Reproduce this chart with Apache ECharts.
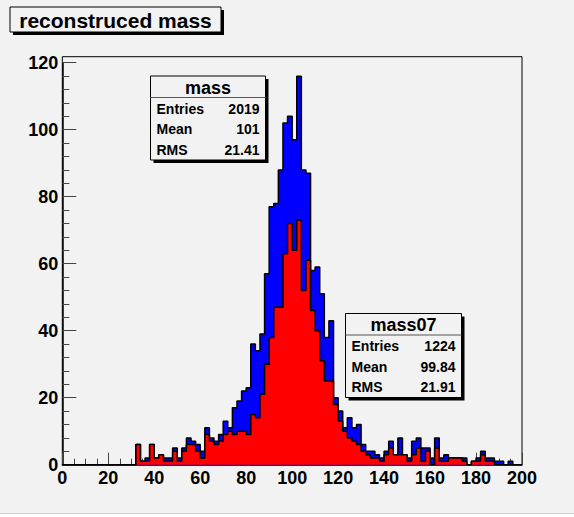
<!DOCTYPE html>
<html>
<head>
<meta charset="utf-8">
<title>reconstruced mass</title>
<script src="https://cdn.jsdelivr.net/npm/echarts@6/dist/echarts.min.js"></script>
<style>
  html, body { margin: 0; padding: 0; background: #f2f2f2; }
  #chart { width: 574px; height: 517px; }
</style>
</head>
<body>
<div id="chart"></div>
<script>
// histogram: 100 bins of width 2 between 0 and 200
var binStart = 0;
var binWidth = 2;
var xTicks = [0, 20, 40, 60, 80, 100, 120, 140, 160, 180, 200];
var yTicks = [0, 20, 40, 60, 80, 100, 120];
var yMax = 121.8;

// "mass" (blue)
var massCounts = [
  0, 0, 0, 0, 0, 0, 0, 0, 0, 0,
  0, 0, 0, 0, 0, 0, 6, 1, 2, 6,
  2, 3, 2, 2, 5, 2, 5, 8, 7, 6,
  4, 11, 8, 7, 9, 13, 11, 17, 19, 22,
  23, 36, 34, 39, 57, 77, 78, 88, 102, 104,
  97, 116, 88, 87, 58, 59, 51, 38, 43, 20,
  16, 11, 14, 11, 12, 6, 4, 4, 3, 2,
  4, 7, 3, 8, 3, 2, 7, 8, 5, 5,
  2, 8, 2, 3, 2, 2, 2, 2, 0, 1,
  2, 4, 2, 2, 1, 1, 0, 1, 0, 0
];

// "mass07" (red)
var mass07Counts = [
  0, 0, 0, 0, 0, 0, 0, 0, 0, 0,
  0, 0, 0, 0, 0, 0, 6, 1, 1, 6,
  2, 3, 1, 1, 4, 1, 4, 6, 6, 4,
  2, 9, 7, 6, 7, 9, 10, 9, 10, 10,
  9, 15, 14, 21, 30, 38, 47, 47, 63, 72,
  64, 73, 52, 61, 46, 40, 31, 25, 25, 18,
  13, 10, 8, 7, 6, 4, 3, 2, 2, 1,
  3, 5, 3, 3, 3, 1, 3, 5, 1, 4,
  0, 5, 1, 1, 2, 2, 2, 1, 0, 1,
  1, 3, 1, 1, 0, 0, 0, 0, 0, 0
];

var statNames = ['Entries', 'Mean', 'RMS'];
var massStats = ['2019', '101', '21.41'];
var mass07Stats = ['1224', '99.84', '21.91'];

// turn bin contents into step points (left edge of every bin + last right edge)
function stepPoints(counts) {
    var pts = [];
    for (var i = 0; i < counts.length; i++) {
        pts.push([binStart + i * binWidth, counts[i]]);
    }
    pts.push([binStart + counts.length * binWidth, counts[counts.length - 1]]);
    return pts;
}

var BG = '#f2f2f2';
var labelFont = 'Liberation Sans';

function statBox(x, y, w, h, name, values) {
    var children = [
        {type: 'rect', shape: {x: x + 3, y: y + 3, width: w, height: h}, style: {fill: '#000'}},
        {type: 'rect', shape: {x: x, y: y, width: w, height: h}, style: {fill: BG, stroke: '#000', lineWidth: 1}},
        {type: 'line', shape: {x1: x, y1: y + 21.5, x2: x + w, y2: y + 21.5}, style: {stroke: '#555', lineWidth: 1}},
        {type: 'text', style: {text: name, x: x + w / 2, y: y + 11.5, textAlign: 'center', textVerticalAlign: 'middle',
            font: 'bold 18px "Liberation Sans"', fill: '#000'}}
    ];
    for (var i = 0; i < statNames.length; i++) {
        var ry = y + 32.5 + i * 20.5;
        children.push({type: 'text', style: {text: statNames[i], x: x + 6, y: ry, textAlign: 'left', textVerticalAlign: 'middle',
            font: 'bold 14px "Liberation Sans"', fill: '#000'}});
        children.push({type: 'text', style: {text: values[i], x: x + w - 6, y: ry, textAlign: 'right', textVerticalAlign: 'middle',
            font: 'bold 14px "Liberation Sans"', fill: '#000'}});
    }
    return {type: 'group', children: children};
}

var myChart = echarts.init(document.getElementById('chart'), null, {renderer: 'svg'});

var option = {
    animation: false,
    backgroundColor: BG,
    grid: [
        // data frame (y from 0 to yMax)
        {left: 62.3, top: 56.7, width: 459.7, height: 408, show: true, borderColor: '#000', borderWidth: 1, backgroundColor: 'transparent'},
        // helper for the y axis ticks (0..120)
        {left: 62.3, top: 62.7, width: 459.7, height: 402}
    ],
    xAxis: [
        {
            type: 'value', gridIndex: 0, min: 0, max: 200, interval: 20,
            axisLine: {show: true, lineStyle: {color: '#000', width: 1.5}},
            axisTick: {show: true, inside: true, length: 12, lineStyle: {color: '#444', width: 1}},
            minorTick: {show: true, splitNumber: 4, length: 6, lineStyle: {color: '#444', width: 1}},
            splitLine: {show: false},
            axisLabel: {
                margin: 4, color: '#000', fontFamily: labelFont, fontWeight: 'bold', fontSize: 18,
                formatter: function (v) { return xTicks.indexOf(v) >= 0 ? String(v) : ''; }
            }
        },
        {type: 'value', gridIndex: 1, min: 0, max: 200, show: false}
    ],
    yAxis: [
        {type: 'value', gridIndex: 0, min: 0, max: yMax, show: false},
        {
            type: 'value', gridIndex: 1, min: 0, max: 120, interval: 20,
            axisLine: {show: true, lineStyle: {color: '#000', width: 1.5}},
            axisTick: {show: true, inside: true, length: 14, lineStyle: {color: '#444', width: 1}},
            minorTick: {show: true, splitNumber: 5, length: 7, lineStyle: {color: '#444', width: 1}},
            splitLine: {show: false},
            axisLabel: {
                margin: 4, color: '#000', fontFamily: labelFont, fontWeight: 'bold', fontSize: 18,
                formatter: function (v) { return yTicks.indexOf(v) >= 0 ? String(v) : ''; }
            }
        }
    ],
    series: [
        {
            name: 'mass', type: 'line', xAxisIndex: 0, yAxisIndex: 0,
            step: 'end', symbol: 'none',
            lineStyle: {color: '#000', width: 1.5},
            areaStyle: {color: '#0000ff', opacity: 1},
            data: stepPoints(massCounts), z: 2
        },
        {
            name: 'mass07', type: 'line', xAxisIndex: 0, yAxisIndex: 0,
            step: 'end', symbol: 'none',
            lineStyle: {color: '#000', width: 1.5},
            areaStyle: {color: '#ff0000', opacity: 1},
            data: stepPoints(mass07Counts), z: 3
        }
    ],
    graphic: [
        // title box
        {type: 'rect', shape: {x: 13, y: 10, width: 211, height: 25}, style: {fill: '#000'}, z: 10},
        {type: 'rect', shape: {x: 10, y: 7, width: 211, height: 25}, style: {fill: BG, stroke: '#000', lineWidth: 1}, z: 11},
        {type: 'text', style: {text: 'reconstruced mass', x: 115.5, y: 20.5, textAlign: 'center', textVerticalAlign: 'middle',
            font: 'bold 21px "Liberation Sans"', fill: '#000'}, z: 12},
        statBox(150.5, 76, 115, 84, 'mass', massStats),
        statBox(345.5, 313.5, 116, 84, 'mass07', mass07Stats),
        // canvas lower border
        {type: 'line', shape: {x1: 0, y1: 513.5, x2: 574, y2: 513.5}, style: {stroke: '#d0d0d0', lineWidth: 1}},
        {type: 'rect', shape: {x: 0, y: 514, width: 574, height: 3}, style: {fill: '#ffffff'}}
    ]
};

myChart.setOption(option);
</script>
</body>
</html>
